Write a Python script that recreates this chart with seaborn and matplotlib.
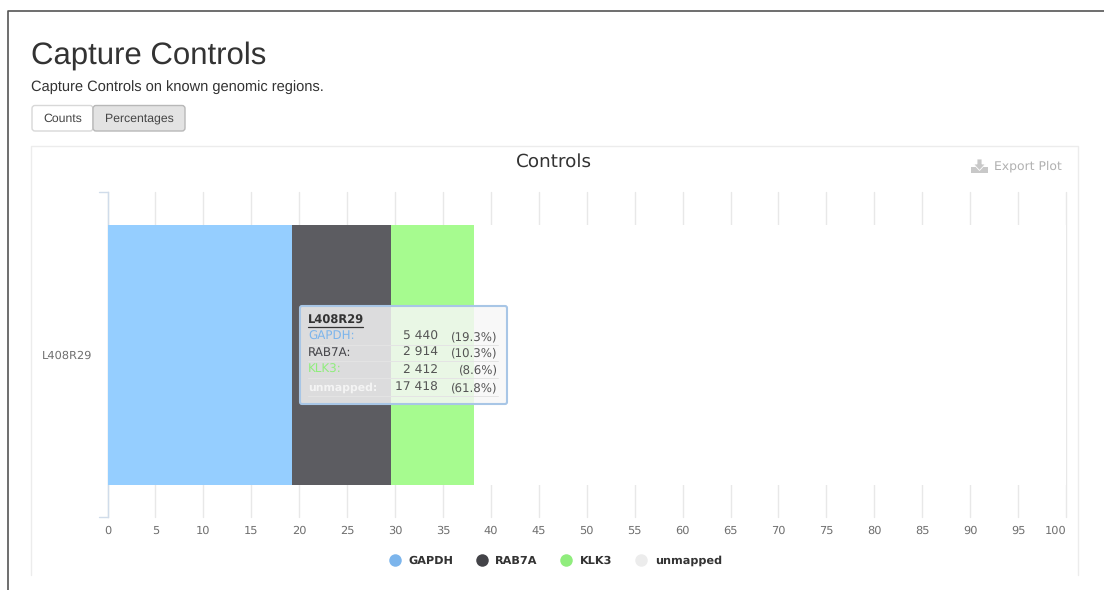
import matplotlib
matplotlib.use("Agg")
import matplotlib.pyplot as plt
from matplotlib.patches import FancyBboxPatch, Rectangle, Polygon
from matplotlib.lines import Line2D
import seaborn as sns
import numpy as np

samples = ["L408R29"]
series = ["GAPDH", "RAB7A", "KLK3", "unmapped"]
percent = [19.3, 10.3, 8.6, 61.8]
counts = ["5 440", "2 914", "2 412", "17 418"]
percent_labels = ["(19.3%)", "(10.3%)", "(8.6%)", "(61.8%)"]
bar_colors = ["#95ceff", "#5c5c61", "#a6fb8f", "#ffffff"]
legend_colors = ["#7cb5ec", "#434348", "#90ed7d", "#ececec"]
tip_colors = ["#7cb5ec", "#434348", "#90ed7d", "#f4f4f4"]
x_ticks = list(range(0, 101, 5))

W, H = 1104, 590
sns.set_theme(style="white")
plt.rcParams["font.family"] = ["DejaVu Sans"]
plt.rcParams["text.hinting"] = "none"
fig = plt.figure(figsize=(W / 100, H / 100), dpi=100, facecolor="white")

page = fig.add_axes([0, 0, 1, 1], zorder=0)
page.set_xlim(0, W)
page.set_ylim(H, 0)
page.axis("off")

# page frame and panel
page.add_line(Line2D([8, 8, W], [H, 11, 11], color="#555555", lw=1.2))
page.add_line(Line2D([31, 31, 1078, 1078], [575, 146, 146, 575], color="#ececec", lw=1))

page.text(31, 63.5, "Capture Controls", family="Liberation Sans", fontsize=22.4,
          color="#333333", va="baseline", ha="left")
page.text(31, 91, "Capture Controls on known genomic regions.", family="Liberation Sans",
          fontsize=10.55, color="#333333", va="baseline", ha="left")

# button group
page.add_patch(FancyBboxPatch((32, 105.5), 61, 25.5, boxstyle="round,pad=0,rounding_size=3",
                              fc="white", ec="#d8d8d8", lw=1))
page.add_patch(FancyBboxPatch((93, 105.5), 92, 25.5, boxstyle="round,pad=0,rounding_size=3",
                              fc="#e3e3e3", ec="#b8b8b8", lw=1))
page.text(62.5, 121.5, "Counts", family="Liberation Sans", fontsize=8.8, color="#444444",
          ha="center", va="baseline")
page.text(139, 121.5, "Percentages", family="Liberation Sans", fontsize=8.8, color="#444444",
          ha="center", va="baseline")

page.text(554, 161.5, "Controls", fontsize=13.2, color="#333333", ha="center", va="center")

# export icon and label
page.add_patch(Rectangle((971, 167), 17, 6, fc="#c8c8c8", ec="none"))
page.add_patch(Polygon([[977, 159], [982, 159], [982, 164], [985.5, 164], [979.5, 170.5], [973.5, 164], [977, 164]],
                       fc="#c8c8c8", ec="white", lw=0.6))
page.text(994.5, 166, "Export Plot", fontsize=8.9, color="#b0b0b0", ha="left", va="center")

# plot area
ax = fig.add_axes([107.5 / W, 1 - 517 / H, (1066 - 107.5) / W, (517 - 192) / H], zorder=1)
ax.patch.set_alpha(0)
left = 0.0
for name, val, col in zip(series, percent, bar_colors):
    sns.barplot(x=[val], y=samples, left=left, color=col, orient="h", width=0.8,
                saturation=1, ax=ax, linewidth=0, zorder=3)
    left += val

ax.set_xlim(0, 100)
ax.set_ylim(0.5, -0.5)
ax.set_xlabel("")
ax.set_ylabel("")
ax.set_xticks(x_ticks)
ax.set_xticklabels([str(t) for t in x_ticks], fontsize=8.2, color="#707070")
ax.get_xticklabels()[-1].set_ha("right")
ax.tick_params(axis="x", length=0, pad=6.2)
ax.set_yticks([0])
ax.tick_params(axis="y", length=0, pad=11, labelsize=8.2, labelcolor="#707070")
ax.grid(axis="x", color="#e8e8e8", lw=1, zorder=0)
for g in ax.get_xgridlines():
    g.set_clip_on(False)
ax.set_axisbelow(True)
for s in ["top", "right", "bottom"]:
    ax.spines[s].set_visible(False)
ax.spines["left"].set_color("#d0dcea")
ax.spines["left"].set_linewidth(1)
for yy in (192, 517):
    page.add_line(Line2D([99, 108], [yy, yy], color="#d0dcea", lw=1))

# legend
legend_x = [395, 482, 566, 641]
text_x = [408, 495, 580, 655]
for name, c, lx, tx in zip(series, legend_colors, legend_x, text_x):
    page.plot([lx], [560], "o", ms=9, color=c, mec="none")
    page.text(tx, 564, name, fontsize=8.1, fontweight="bold", color="#333333", ha="left", va="baseline")

# tooltip on top of everything
top = fig.add_axes([0, 0, 1, 1], zorder=2)
top.set_xlim(0, W)
top.set_ylim(H, 0)
top.axis("off")
top.patch.set_alpha(0)
top.add_patch(FancyBboxPatch((300, 306), 207, 98, boxstyle="round,pad=0,rounding_size=2",
                             fc=(0.97, 0.97, 0.97, 0.83), ec="#a8c6e6", lw=1.5))
top.text(308, 324, samples[0], fontsize=8.3, fontweight="bold", color="#333333", ha="left", va="baseline")
top.add_line(Line2D([308, 363], [326.5, 326.5], color="#333333", lw=0.9))
row_y = [340, 356, 373, 391]
for name, c, cnt, pct, yy, tc in zip(series, percent, counts, percent_labels, row_y, tip_colors):
    bold = name == "unmapped"
    top.text(308, yy, name + ":", fontsize=7.8 if bold else 8.6, color=tc, ha="left", va="baseline",
             fontweight="bold" if bold else "normal")
    top.text(438, yy, cnt, fontsize=8.8, color="#555555", ha="right", va="baseline")
    top.text(498, yy, pct, fontsize=8.5, color="#555555", ha="right", va="baseline")
    top.add_line(Line2D([308, 498], [yy + 4.5, yy + 4.5], color="#e4e4e4", lw=0.7))

fig.savefig("out.png", dpi=100, facecolor="white")
